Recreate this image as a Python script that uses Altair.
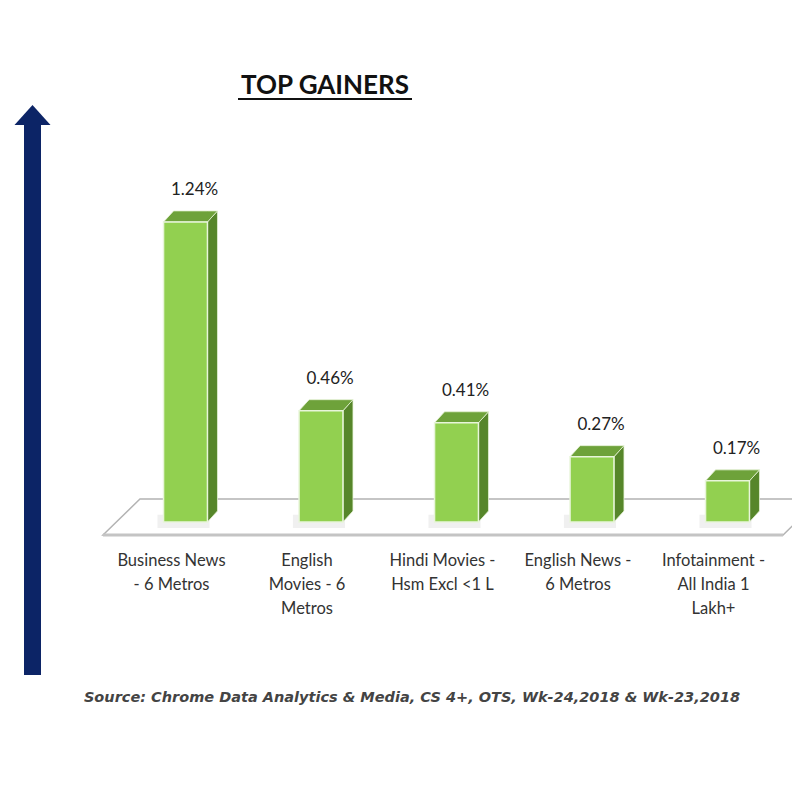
import altair as alt
import pandas as pd

# ---- data ----
label_lines = [
    "Business News\n- 6  Metros",
    "English\nMovies - 6\nMetros",
    "Hindi Movies -\nHsm Excl <1 L",
    "English News -\n6 Metros",
    "Infotainment -\nAll India 1\nLakh+",
]
values = [1.24, 0.46, 0.41, 0.27, 0.17]
value_labels = ["1.24%", "0.46%", "0.41%", "0.27%", "0.17%"]
title_text = "TOP GAINERS"
source_text = "Source: Chrome Data Analytics & Media, CS 4+,  OTS, Wk-24,2018 & Wk-23,2018"

# ---- styles ----
NAVY = "#0c2466"
FRONT = "#92d050"
SIDE = "#56862a"
TOP = "#6ea23a"
FONT = "Lato"

hw = 0.162   # half bar width (x units)
ddx = 0.074  # depth in x units
ddy = 0.0455  # depth in y units

xs = alt.Scale(domain=[-1.31, 4.476], nice=False, zero=False)
ys = alt.Scale(domain=[-1.1157, 2.124], nice=False, zero=False)

bars = pd.DataFrame({
    "idx": list(range(len(values))),
    "value": values,
    "vlabel": value_labels,
    "cat": label_lines,
})
bars["xl"] = bars["idx"] - hw
bars["xr"] = bars["idx"] + hw
bars["zero"] = 0.0
bars["sh_l"] = bars["xl"] - 0.045
bars["sh_r"] = bars["xr"] + 0.015
bars["sh_t"] = 0.03
bars["sh_b"] = -0.025

side_rows, top_rows = [], []
for i, v in zip(bars["idx"], values):
    xl, xr = i - hw, i + hw
    side_rows += [
        {"g": i, "x": xr, "y": v, "y2": 0.0},
        {"g": i, "x": xr + ddx, "y": v + ddy, "y2": ddy},
    ]
    top_rows += [
        {"g": i, "x": xl, "y": v, "y2": v},
        {"g": i, "x": xl + ddx, "y": v + ddy, "y2": v},
        {"g": i, "x": xr, "y": v + ddy, "y2": v},
        {"g": i, "x": xr + ddx, "y": v + ddy, "y2": v + ddy},
    ]
side = pd.DataFrame(side_rows)
top = pd.DataFrame(top_rows)

# floor (chart base plane)
f_front, f_back = -0.0537, 0.095
floor = pd.DataFrame({
    "x": [-0.609, -0.336, 4.41, 4.683],
    "y": [f_front, f_back, f_back, f_back],
    "y2": [f_front, f_front, f_front, f_back],
})
floor_edge = pd.DataFrame({"x": [-0.609, 4.41], "y": [f_front, f_front]})

one = pd.DataFrame({"a": [0]})

X = lambda f: alt.X(f, type="quantitative", scale=xs, axis=None)
Y = lambda f: alt.Y(f, type="quantitative", scale=ys, axis=None)

floor_layer = alt.Chart(floor).mark_area(
    color="white", stroke="#b3b3b3", strokeWidth=1.5, clip=True
).encode(x=X("x"), y=Y("y"), y2="y2")

floor_edge_layer = alt.Chart(floor_edge).mark_line(
    color="#c4c4c4", strokeWidth=3, clip=True
).encode(x=X("x"), y=Y("y"))

shadow_layer = alt.Chart(bars).mark_rect(color="#eeeeee", opacity=0.9).encode(
    x=X("sh_l"), x2="sh_r", y=Y("sh_t"), y2="sh_b"
)

side_layer = alt.Chart(side).mark_area(color=SIDE, stroke="#e6f2d6", strokeWidth=0.8).encode(
    x=X("x"), y=Y("y"), y2="y2", detail="g:N"
)
top_layer = alt.Chart(top).mark_area(color=TOP, stroke="#e6f2d6", strokeWidth=0.8).encode(
    x=X("x"), y=Y("y"), y2="y2", detail="g:N"
)
front_layer = alt.Chart(bars).mark_rect(
    color=FRONT, stroke="#e8f5da", strokeWidth=1.5
).encode(x=X("xl"), x2="xr", y=Y("value"), y2="zero")

value_text = alt.Chart(bars).mark_text(
    font=FONT, fontSize=17, color="#222222", dx=9, dy=-32, baseline="middle"
).encode(x=X("idx"), y=Y("value"), text="vlabel:N")

cat_text = alt.Chart(bars).mark_text(
    font=FONT, fontSize=16.5, color="#333333", dx=-14, lineBreak="\n",
    lineHeight=24, baseline="alphabetic", align="center"
).encode(x=X("idx"), y=alt.value(558), text="cat:N")

arrow_shaft = alt.Chart(one).mark_rule(color=NAVY, strokeWidth=17).encode(
    x=alt.value(24.5), y=alt.value(112), y2=alt.value(667)
)
arrow_head = alt.Chart(one).mark_point(
    shape="M-1,0.55L0,-0.55L1,0.55Z", filled=True, size=1296, color=NAVY, opacity=1
).encode(x=alt.value(24.5), y=alt.value(107))

title_layer = alt.Chart(one).mark_text(
    text=title_text, font=FONT, fontSize=26, fontWeight="bold", color="#111111",
    baseline="middle"
).encode(x=alt.value(317), y=alt.value(78))
underline = alt.Chart(one).mark_rule(color="#111111", strokeWidth=2).encode(
    x=alt.value(230), x2=alt.value(404), y=alt.value(91)
)

source_layer = alt.Chart(one).mark_text(
    text=source_text, font="DejaVu Sans", fontSize=14.5, fontStyle="italic", fontWeight="bold",
    color="#444444", baseline="middle"
).encode(x=alt.value(404), y=alt.value(690))

chart = alt.layer(
    floor_layer, floor_edge_layer, shadow_layer, side_layer, top_layer, front_layer,
    value_text, cat_text, arrow_shaft, arrow_head, title_layer, underline, source_layer
).properties(
    width=784, height=784, padding=0, background="white",
    autosize=alt.AutoSizeParams(type="none")
).configure_view(stroke=None)

chart.save("out.html", embed_options={"renderer": "svg", "actions": False})
